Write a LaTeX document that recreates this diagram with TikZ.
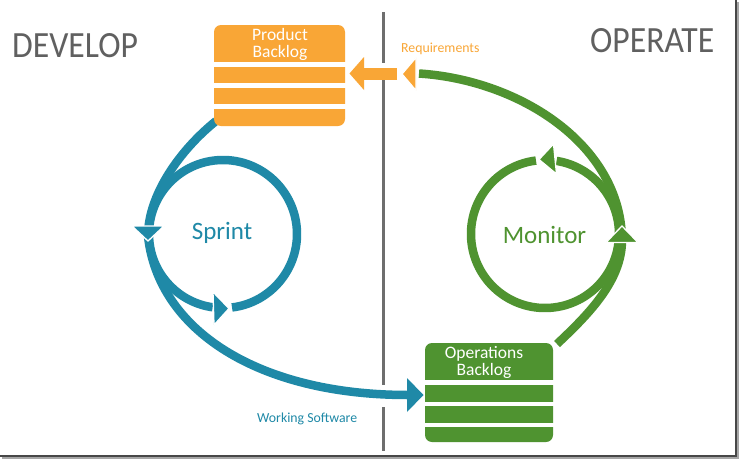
\documentclass[tikz,border=0pt]{standalone}
\usepackage{fontspec}
\usepackage{graphicx}
\setmainfont{Carlito}
\definecolor{sblue}{HTML}{1F89A7}
\definecolor{sgreen}{HTML}{4F9330}
\definecolor{sorange}{HTML}{F9A636}
\definecolor{divgray}{HTML}{6E6E6E}
\definecolor{titlegray}{HTML}{606060}
\begin{document}
\begin{tikzpicture}[x=1pt,y=-1pt,
  flow/.style={line width=8.5pt},
  arrowtri/.style={draw=white, line width=1.3pt, line join=miter},
  backlog/.style={rectangle, rounded corners=7pt, inner sep=0pt},
  boxtext/.style={text=white, align=center, inner sep=0pt, font=\fontsize{17.5}{16.5}\selectfont},
  title/.style={text=titlegray, inner sep=0pt, font=\fontsize{37}{37}\selectfont},
  loopname/.style={inner sep=0pt, font=\fontsize{25}{25}\selectfont},
  smalllabel/.style={inner sep=0pt, font=\fontsize{13.8}{14}\selectfont}
]
\useasboundingbox (0,0) rectangle (740,461);
\fill[white] (0,0) rectangle (740,461);

% frame shadow
\draw[black!35, line width=1.5pt] (737.9,2) -- (737.9,458) -- (2,458);
\draw[black!72, line width=2.3pt] (735.8,0) -- (735.8,456.2) -- (0,456.2);

% divider
\draw[divgray, line width=3pt] (383,12) -- (383,63) (383,80) -- (383,385) (383,407) -- (383,451);

% titles
\node[title, anchor=base west] (develop) at (12,57) {\scalebox{0.91}[1]{DEVELOP}};
\node[title, anchor=base west] (operate) at (590,52) {\scalebox{0.91}[1]{OPERATE}};

% named points
\coordinate (sc) at (223,234);
\coordinate (mc) at (545,234);
\coordinate (b0) at (216,121);
\coordinate (bm) at (148,236);
\coordinate (b1) at (408,395);
\coordinate (g0) at (557,344);
\coordinate (gm) at (622,240);
\coordinate (g1) at (419,73.5);
\coordinate (o0) at (397,73.5);
\coordinate (o1) at (363,73.5);

% blue: sprint loop
\draw[sblue, flow] ([shift={(83:74)}]sc) arc[start angle=83, end angle=-262, radius=74];
\draw[sblue, flow] (b0) .. controls (180,150) and (148,195) .. (bm)
   .. controls (158,330) and (258,395) .. (b1);
\path[fill=sblue, arrowtri] (132,226) -- (164,226) -- (148,241) -- cycle;
\path[fill=sblue, arrowtri] (213,292) -- (229,308.5) -- (214,325) -- cycle;
\path[fill=sblue] (407,378) -- (423.5,395) -- (407,412) -- cycle;

% green: monitor loop
\draw[sgreen, flow] ([shift={(-97:74)}]mc) arc[start angle=-97, end angle=-441, radius=74];
\draw[sgreen, flow] (g0) .. controls (590,313) and (622,280) .. (gm)
   .. controls (621,145) and (520,80) .. (g1);
\path[fill=sgreen, arrowtri] (553.5,144) -- (539,159.5) -- (556.5,174) -- cycle;
\path[fill=sgreen, arrowtri] (606,242.5) -- (622,226) -- (638,242.5) -- cycle;

% orange: requirements
\path[fill=sorange, arrowtri] (402,74) -- (416,57.5) -- (416,90.5) -- cycle;
\draw[sorange, line width=12pt] (o0) -- (o1);
\path[fill=sorange] (349.5,73.5) -- (364,57) -- (364,90) -- cycle;

% product backlog
\node[backlog, fill=sorange, minimum width=131pt, minimum height=101pt] (pb) at (279.5,75.5) {};
\fill[white] (213,61.8) rectangle (346,66.5);
\fill[white] (213,83.3) rectangle (346,87.8);
\fill[white] (213,104.3) rectangle (346,108.8);
\node[boxtext, anchor=north] (pbt) at (280,28.5) {Product\\Backlog};

% operations backlog
\node[backlog, fill=sgreen, minimum width=128pt, minimum height=99pt] (ob) at (489,392.5) {};
\fill[white] (424,380.2) rectangle (554,384.8);
\fill[white] (424,401.7) rectangle (554,406);
\fill[white] (424,422.7) rectangle (554,427.3);
\node[boxtext, anchor=north] (obt) at (484,346.5) {Operations\\Backlog};

% loop names and labels
\node[loopname, text=sblue, anchor=base] (sprint) at (222,239) {Sprint};
\node[loopname, text=sgreen, anchor=base] (monitor) at (544.5,243) {Monitor};
\node[smalllabel, text=sorange, anchor=base west] (req) at (401,52) {Requirements};
\node[smalllabel, text=sblue, anchor=base west] (ws) at (257,422.5) {Working Software};
\end{tikzpicture}
\end{document}
